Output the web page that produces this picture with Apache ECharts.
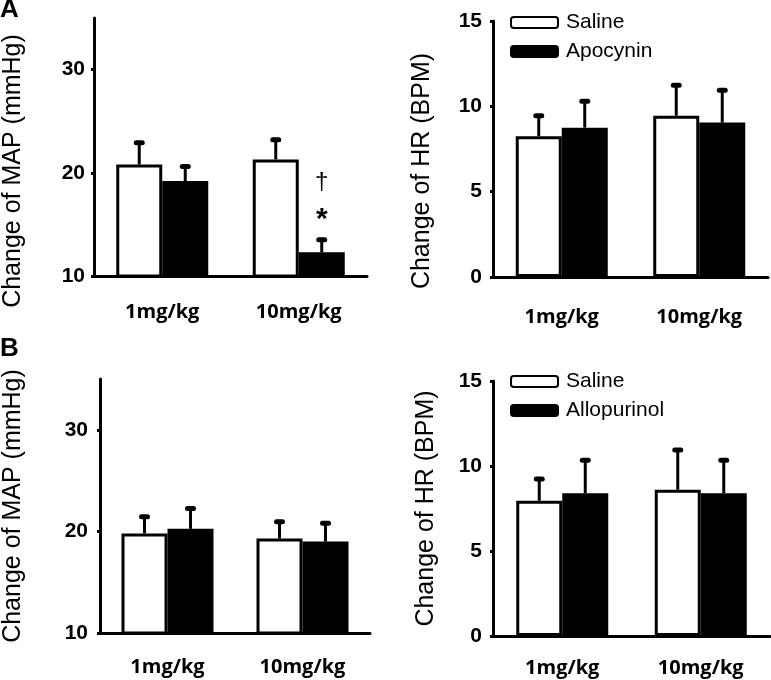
<!DOCTYPE html>
<html><head><meta charset="utf-8">
<script src="https://cdn.jsdelivr.net/npm/echarts@6/dist/echarts.min.js"></script>
<style>html,body{margin:0;padding:0;background:#fff}#c{width:771px;height:680px}</style>
</head><body><div id="c"></div>
<script>
// ---- data ----
const categories = ['1mg/kg', '10mg/kg'];
// Panel A: MAP
const mapA_saline = [20.8, 21.3];
const mapA_saline_sem = [2.2, 2.0];
const mapA_apocynin = [19.2, 12.3];
const mapA_apocynin_sem = [1.5, 1.3];
// Panel A: HR
const hrA_saline = [8.25, 9.45];
const hrA_saline_sem = [1.25, 1.85];
const hrA_apocynin = [8.75, 9.05];
const hrA_apocynin_sem = [1.6, 1.95];
// Panel B: MAP
const mapB_saline = [19.8, 19.3];
const mapB_saline_sem = [1.75, 1.75];
const mapB_allopurinol = [20.25, 19.0];
const mapB_allopurinol_sem = [2.1, 1.9];
// Panel B: HR
const hrB_saline = [7.95, 8.6];
const hrB_saline_sem = [1.35, 2.4];
const hrB_allopurinol = [8.4, 8.4];
const hrB_allopurinol_sem = [2.0, 2.0];
// significance marks on panel A MAP, Apocynin 10mg/kg: [categoryIndex, yValue, symbol]
const mapA_marks = [[1, 19.1, '\u2020'], [1, 15.5, '*']];
// tick labels
const mapTicks = [10, 20, 30];
const hrTicks = [0, 5, 10, 15];

const BAR_W = 46;
const FONT = 'Liberation Sans';

function barSeries(name, gi, values, filled) {
  return {
    type: 'bar', name: name, xAxisIndex: gi, yAxisIndex: gi, data: values,
    barWidth: BAR_W, barGap: '0%',
    itemStyle: { color: filled ? '#000' : '#fff', borderColor: '#000', borderWidth: 3 },
    emphasis: { disabled: true }, z: 3
  };
}
function errSeries(gi, means, sems, side) {
  return {
    type: 'custom', xAxisIndex: gi, yAxisIndex: gi, z: 5, silent: true,
    data: means.map((m, i) => [i, m, m + sems[i]]),
    renderItem: function (params, api) {
      const base = api.coord([api.value(0), api.value(1)]);
      const top = api.coord([api.value(0), api.value(2)]);
      const x = base[0] + side * BAR_W / 2;
      return { type: 'group', children: [
        { type: 'line', shape: { x1: x, y1: base[1], x2: x, y2: top[1] }, style: { stroke: '#000', lineWidth: 3 } },
        { type: 'line', shape: { x1: x - 3, y1: top[1] + 1, x2: x + 3, y2: top[1] + 1 }, style: { stroke: '#000', lineWidth: 5, lineCap: 'round' } }
      ] };
    }
  };
}
function markSeries(gi, marks, side) {
  return {
    type: 'custom', xAxisIndex: gi, yAxisIndex: gi, z: 6, silent: true,
    data: marks,
    renderItem: function (params, api) {
      const p = api.coord([api.value(0), api.value(1)]);
      const sym = marks[params.dataIndex][2];
      const star = sym === '*';
      return { type: 'text', x: p[0] + side * BAR_W / 2, y: p[1], style: {
        text: sym, fill: '#000', align: 'center', verticalAlign: 'middle',
        font: (star ? 'bold 30px ' : '24px ') + FONT
      } };
    }
  };
}
function xAxis(gi, margin) {
  return {
    type: 'category', gridIndex: gi, data: categories,
    axisLine: { show: true, onZero: false, lineStyle: { color: '#000', width: 3 } },
    axisTick: { show: false },
    axisLabel: { margin: margin, color: '#000', fontFamily: 'Open Sans', fontWeight: 'bold', fontSize: 20 }
  };
}
function yAxis(gi, isMap, nameGap, pad, labelMargin) {
  const ticks = isMap ? mapTicks : hrTicks;
  return {
    type: 'value', gridIndex: gi,
    min: isMap ? 10 : 0, max: isMap ? 35 : 15, interval: isMap ? 10 : 5,
    name: isMap ? 'Change of MAP (mmHg)' : 'Change of HR (BPM)',
    nameLocation: 'middle', nameRotate: 90, nameGap: nameGap,
    nameTextStyle: { fontFamily: FONT, fontSize: 25, color: '#000', padding: pad },
    axisLine: { show: true, lineStyle: { color: '#000', width: 3 } },
    axisTick: { show: true, length: 3, customValues: ticks, lineStyle: { color: '#000', width: 3 } },
    axisLabel: { customValues: ticks, margin: labelMargin, color: '#000', fontFamily: FONT, fontWeight: 'bold', fontSize: 21 },
    splitLine: { show: false }
  };
}
function legend(items, top) {
  return { data: items, orient: 'vertical', left: 505, top: top, itemWidth: 47, itemHeight: 11, itemGap: 8,
    icon: 'roundRect', selectedMode: false,
    textStyle: { fontFamily: FONT, fontSize: 21, color: '#000', padding: [0, 0, 0, 3] } };
}

const chart = echarts.init(document.getElementById('c'), null, { renderer: 'canvas' });
chart.setOption({
  animation: false,
  backgroundColor: '#fff',
  title: [
    { text: 'A', left: 0, top: -3, padding: 0, textStyle: { fontFamily: FONT, fontWeight: 'bold', fontSize: 26, color: '#000' } },
    { text: 'B', left: 0, top: 336, padding: 0, textStyle: { fontFamily: FONT, fontWeight: 'bold', fontSize: 26, color: '#000' } }
  ],
  legend: [legend(['Saline', 'Apocynin'], 7), legend(['Saline', 'Allopurinol'], 366)],
  grid: [
    { left: 91, top: 18, width: 276, height: 258 },
    { left: 493, top: 21, width: 275, height: 256 },
    { left: 95, top: 379, width: 275, height: 254 },
    { left: 493, top: 381, width: 277, height: 255 }
  ],
  xAxis: [xAxis(0, 26), xAxis(1, 30), xAxis(2, 24), xAxis(3, 22)],
  yAxis: [
    yAxis(0, true, 68, [0, 48, 0, 0], 9),
    yAxis(1, false, 58, [0, 44, 0, 0], 11),
    yAxis(2, true, 74, [0, 0, 0, 0], 12),
    yAxis(3, false, 54, [0, 0, 0, 0], 11)
  ],
  series: [
    barSeries('Saline', 0, mapA_saline, false),
    barSeries('Apocynin', 0, mapA_apocynin, true),
    errSeries(0, mapA_saline, mapA_saline_sem, -1),
    errSeries(0, mapA_apocynin, mapA_apocynin_sem, 1),
    markSeries(0, mapA_marks, 1),

    barSeries('Saline', 1, hrA_saline, false),
    barSeries('Apocynin', 1, hrA_apocynin, true),
    errSeries(1, hrA_saline, hrA_saline_sem, -1),
    errSeries(1, hrA_apocynin, hrA_apocynin_sem, 1),

    barSeries('Saline', 2, mapB_saline, false),
    barSeries('Allopurinol', 2, mapB_allopurinol, true),
    errSeries(2, mapB_saline, mapB_saline_sem, -1),
    errSeries(2, mapB_allopurinol, mapB_allopurinol_sem, 1),

    barSeries('Saline', 3, hrB_saline, false),
    barSeries('Allopurinol', 3, hrB_allopurinol, true),
    errSeries(3, hrB_saline, hrB_saline_sem, -1),
    errSeries(3, hrB_allopurinol, hrB_allopurinol_sem, 1)
  ]
});
</script></body></html>
